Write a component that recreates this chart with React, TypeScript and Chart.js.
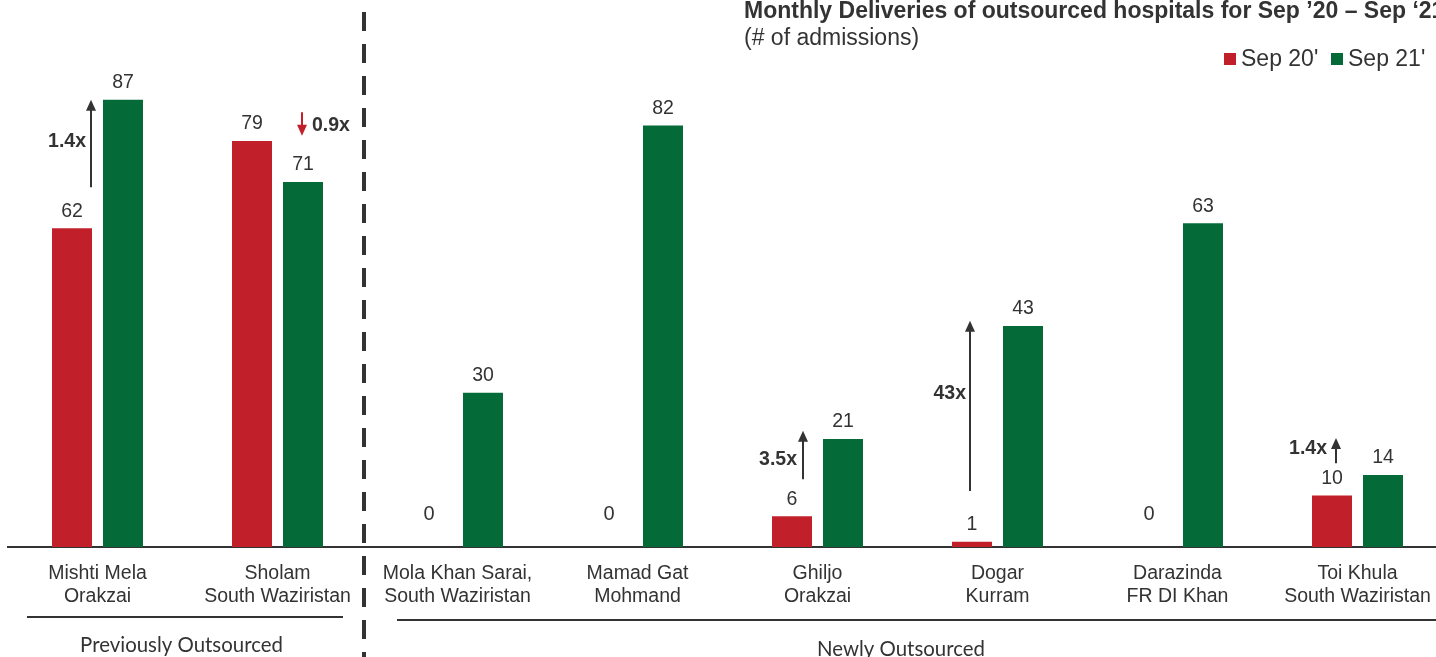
import React, { useEffect, useRef } from "react";
import { Chart, registerables } from "chart.js";

Chart.register(...registerables);

// ---------- data ----------
const categories: string[][] = [
  ["Mishti Mela", "Orakzai"],
  ["Sholam", "South Waziristan"],
  ["Mola Khan Sarai,", "South Waziristan"],
  ["Mamad Gat", "Mohmand"],
  ["Ghiljo", "Orakzai"],
  ["Dogar", "Kurram"],
  ["Darazinda", "FR DI Khan"],
  ["Toi Khula", "South Waziristan"],
];
const sep20: number[] = [62, 79, 0, 0, 6, 1, 0, 10];
const sep21: number[] = [87, 71, 30, 82, 21, 43, 63, 14];
const seriesLabels: string[] = ["Sep 20'", "Sep 21'"];
const titleText = "Monthly Deliveries of outsourced hospitals for Sep \u201920 \u2013 Sep \u201821";
const subtitleText = "(# of admissions)";
const groupLabels: string[] = ["Previously Outsourced", "Newly Outsourced"];

// growth annotations: category index, label, arrow from/to (in data units)
const growthCats: number[] = [0, 1, 4, 5, 7];
const growthLabels: string[] = ["1.4x", "0.9x", "3.5x", "43x", "1.4x"];
const growthFrom: number[] = [70, 84.6, 13.2, 10.9, 16.3];
const growthTo: number[] = [87, 80, 22.6, 44, 21.2];

// ---------- styles ----------
const RED = "#C1202A";
const GREEN = "#046B38";
const TEXT = "#333333";
const FONT = "'Liberation Sans', Arial, sans-serif";
// arrow layout per annotation (px offsets from category centre / label offsets)
const arrowStyle = [
  { dx: -6.5, ldx: -5, ldy: -2, align: "right", color: TEXT },
  { dx: 24.5, ldx: 10, ldy: 2, align: "left", color: RED },
  { dx: -14.5, ldx: -6, ldy: 5, align: "right", color: TEXT },
  { dx: -27.5, ldx: -4, ldy: -12, align: "right", color: TEXT },
  { dx: -21.5, ldx: -9, ldy: -2, align: "right", color: TEXT },
];

const decorPlugin = {
  id: "decor",
  afterDatasetsDraw(chart: any) {
    const ctx: CanvasRenderingContext2D = chart.ctx;
    const xs = chart.scales.x;
    const ys = chart.scales.y;
    ctx.save();

    // value labels
    chart.data.datasets.forEach((ds: any, di: number) => {
      const meta = chart.getDatasetMeta(di);
      meta.data.forEach((bar: any, i: number) => {
        const v = ds.data[i];
        ctx.fillStyle = TEXT;
        ctx.textAlign = "center";
        ctx.textBaseline = "middle";
        if (v === 0) {
          ctx.font = `20px ${FONT}`;
          ctx.fillText("0", bar.x - 3, ys.getPixelForValue(0) - 33);
        } else {
          ctx.font = `19.5px ${FONT}`;
          ctx.fillText(String(v), bar.x, bar.y - 17);
        }
      });
    });

    // growth arrows
    growthCats.forEach((c, k) => {
      const st = arrowStyle[k];
      const x = xs.getPixelForValue(c) + st.dx;
      const y1 = ys.getPixelForValue(growthFrom[k]);
      const y2 = ys.getPixelForValue(growthTo[k]);
      const dir = y2 < y1 ? -1 : 1;
      ctx.strokeStyle = st.color;
      ctx.fillStyle = st.color;
      ctx.lineWidth = 2;
      ctx.beginPath();
      ctx.moveTo(x, y1);
      ctx.lineTo(x, y2 - dir * 9);
      ctx.stroke();
      ctx.beginPath();
      ctx.moveTo(x, y2);
      ctx.lineTo(x - 5, y2 - dir * 11);
      ctx.lineTo(x + 5, y2 - dir * 11);
      ctx.closePath();
      ctx.fill();
      ctx.fillStyle = TEXT;
      ctx.font = `bold 19.5px ${FONT}`;
      ctx.textAlign = st.align as CanvasTextAlign;
      ctx.textBaseline = "middle";
      ctx.fillText(growthLabels[k], x + st.ldx, (y1 + y2) / 2 + st.ldy);
    });

    // dashed separator
    ctx.strokeStyle = TEXT;
    ctx.lineWidth = 4;
    ctx.setLineDash([19, 13]);
    ctx.beginPath();
    ctx.moveTo(364, 12);
    ctx.lineTo(364, 657);
    ctx.stroke();
    ctx.setLineDash([]);

    // group lines
    ctx.lineWidth = 2;
    ctx.beginPath();
    ctx.moveTo(27, 617);
    ctx.lineTo(343, 617);
    ctx.moveTo(397, 620);
    ctx.lineTo(1460, 620);
    ctx.stroke();

    // group labels
    ctx.fillStyle = TEXT;
    ctx.textAlign = "center";
    ctx.textBaseline = "middle";
    ctx.font = `20px Lato, 'Open Sans', sans-serif`;
    const w = ctx.measureText(groupLabels[0]).width;
    const size = (20 * 203) / w;
    ctx.font = `${size}px Lato, 'Open Sans', sans-serif`;
    ctx.fillText(groupLabels[0], 181.5, 645);
    ctx.fillText(groupLabels[1], 901, 649);

    // title
    ctx.textAlign = "left";
    ctx.font = `bold 23px ${FONT}`;
    ctx.fillText(titleText, 744, 12);
    ctx.font = `23px ${FONT}`;
    ctx.fillText(subtitleText, 744, 39);

    // legend
    ctx.fillStyle = RED;
    ctx.fillRect(1224, 53, 12, 12);
    ctx.fillStyle = GREEN;
    ctx.fillRect(1331, 53, 12, 12);
    ctx.fillStyle = TEXT;
    ctx.font = `23px ${FONT}`;
    ctx.fillText(seriesLabels[0], 1241, 60);
    ctx.fillText(seriesLabels[1], 1348, 60);

    ctx.restore();
  },
};

export default function App() {
  const ref = useRef<HTMLCanvasElement | null>(null);
  useEffect(() => {
    if (!ref.current) return;
    const chart = new Chart(ref.current, {
      type: "bar",
      data: {
        labels: categories,
        datasets: [
          {
            label: seriesLabels[0],
            data: sep20,
            backgroundColor: RED,
            categoryPercentage: 102 / 180,
            barPercentage: 40 / 51,
          },
          {
            label: seriesLabels[1],
            data: sep21,
            backgroundColor: GREEN,
            categoryPercentage: 102 / 180,
            barPercentage: 40 / 51,
          },
        ],
      },
      options: {
        responsive: true,
        maintainAspectRatio: false,
        animation: false,
        layout: { padding: { top: 33, left: 7.5, right: 12.5, bottom: 0 } },
        plugins: {
          legend: { display: false },
          tooltip: { enabled: false },
          title: { display: false },
        },
        scales: {
          x: {
            grid: { display: false, drawTicks: false },
            border: { display: true, color: TEXT, width: 2 },
            ticks: {
              padding: 15,
              color: TEXT,
              autoSkip: false,
              maxRotation: 0,
              font: { family: FONT, size: 19.5, lineHeight: 23 / 19.5 },
            },
            afterFit: (s: any) => {
              s.height = 110;
            },
          },
          y: { display: false, min: 0, max: 100 },
        },
      },
      plugins: [decorPlugin],
    });
    return () => chart.destroy();
  }, []);

  return (
    <div style={{ position: "fixed", left: 0, top: 0, width: 1436, height: 657, overflow: "hidden", background: "#fff" }}>
      <div style={{ position: "relative", width: 1460, height: 657 }}>
        <canvas ref={ref} />
      </div>
    </div>
  );
}
